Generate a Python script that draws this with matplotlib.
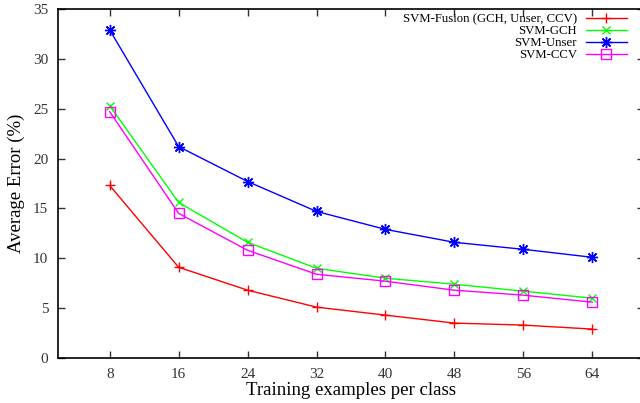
import matplotlib
matplotlib.use("Agg")
import matplotlib.pyplot as plt

# training examples per class
x_vals = [8, 16, 24, 32, 40, 48, 56, 64]

fusion = [17.3, 9.1, 6.8, 5.1, 4.3, 3.5, 3.3, 2.9]
gch = [25.3, 15.6, 11.6, 9.0, 8.0, 7.4, 6.7, 6.0]
unser = [32.9, 21.2, 17.7, 14.7, 12.9, 11.6, 10.9, 10.1]
ccv = [24.7, 14.5, 10.8, 8.4, 7.7, 6.8, 6.3, 5.6]

labels = ['SVM-Fusion (GCH, Unser, CCV)', 'SVM-GCH', 'SVM-Unser', 'SVM-CCV']
colors = ['#ff0000', '#00ff00', '#0000ff', '#ff00ff']

plt.rcParams['font.family'] = ['Liberation Serif', 'DejaVu Serif']

fig = plt.figure(figsize=(6.4, 4.03), dpi=100)
ax = fig.add_axes([58 / 640, 45 / 403, 586 / 640, 349 / 403])

ax.plot(x_vals, fusion, color=colors[0], lw=1, marker='+', ms=7, mew=1, label=labels[0])
ax.plot(x_vals, gch, color=colors[1], lw=1, marker='x', ms=6, mew=1, label=labels[1])
ax.plot(x_vals, unser, color=colors[2], lw=1, marker=(8, 2, 0), ms=8, mew=1, label=labels[2])
ax.plot(x_vals, ccv, color=colors[3], lw=1, marker='s', ms=7, mew=1,
        markerfacecolor='none', label=labels[3])

ax.set_xlim(2, 70)
ax.set_ylim(0, 35)
ax.set_xticks(x_vals)
ax.set_yticks(range(0, 36, 5))
ax.tick_params(direction='in', length=5, width=1, top=True, right=True,
               labelsize=11, colors='#333333', labelcolor='#333333', pad=7)
for s in ax.spines.values():
    s.set_linewidth(1.2)

ax.set_xlabel('Training examples per class', fontsize=13.5, labelpad=1)
ax.set_ylabel('Average Error (%)', fontsize=13.5, labelpad=6)

ax.legend(loc='upper right', bbox_to_anchor=(0.975, 0.995), frameon=False,
          markerfirst=False, fontsize=9.2, handlelength=3.2, handletextpad=0.7,
          labelspacing=0.0, borderpad=0.2, borderaxespad=0)

fig.savefig('out.png', dpi=100)
